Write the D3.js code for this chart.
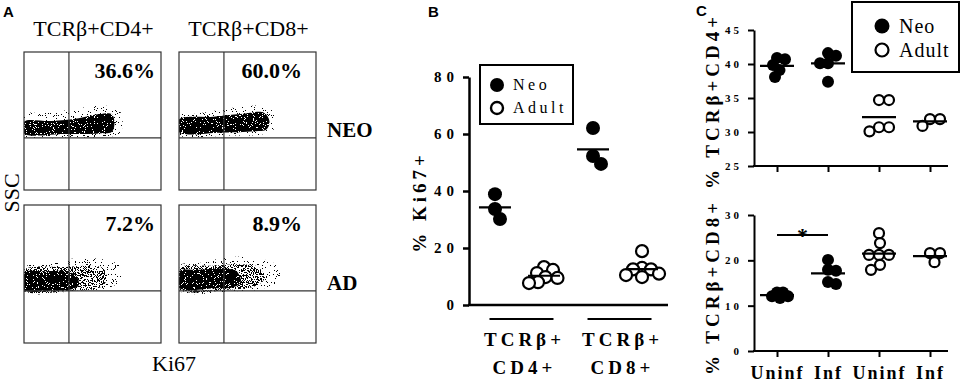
<!DOCTYPE html>
<html>
<head>
<meta charset="utf-8">
<script src="https://cdn.jsdelivr.net/npm/d3@7"></script>
<style>
body { margin: 0; background: #fff; }
svg { display: block; }
</style>
</head>
<body>
<svg id="fig" width="965" height="382"></svg>
<script>
// ---------- panel A data (flow plots, outlines of the event clouds in % of each axis)
var aColumns = ["TCRβ+CD4+", "TCRβ+CD8+"];
var aRows = ["NEO", "AD"];
var aPercents = ["36.6%", "60.0%", "7.2%", "8.9%"];
var aGate = [32.8, 37.7]; // Ki67 gate, SSC gate

var neoCd4Halo = [[0,38.5],[30,38],[60,38.5],[70,41],[72,50],[70,57],[60,61],[45,60],[25,57],[10,56],[0,55]];
var neoCd4Core = [[0,41],[30,40.5],[55,41],[64,42],[66,48],[64,55],[55,55],[40,52],[20,50],[0,49.5]];
var neoCd8Halo = [[0,40],[35,39.5],[62,40.5],[70,45],[70,54],[65,60],[50,61],[30,58],[10,55],[0,54]];
var neoCd8Core = [[0,42],[30,41.5],[55,42.5],[64,44],[66,50],[62,56],[45,55],[25,53],[0,51]];
var adCd4Halo = [[0,37.5],[40,38],[62,40],[72,47],[70,56],[55,61],[35,61],[15,57],[0,55]];
var adCd4Mid = [[0,38],[35,38],[55,40],[60,45],[58,54],[45,56],[30,55],[0,53]];
var adCd4Core = [[0,38.5],[20,38],[35,39],[40,42],[38,49],[30,52],[15,52],[0,51]];
var adCd8Halo = [[0,38],[40,37.5],[60,39],[75,47],[72,56],[55,62],[35,62],[15,58],[0,56]];
var adCd8Mid = [[0,39],[40,39],[55,41],[62,46],[58,55],[45,57],[25,56],[0,54]];
var adCd8Core = [[0,40],[25,39.5],[40,40.5],[45,44],[42,52],[30,54],[15,53],[0,52]];

// ---------- panel B data (% Ki67+)
var bCategories = [["TCRβ+", "CD4+"], ["TCRβ+", "CD8+"]];
var bTicks = [0, 20, 40, 60, 80];
var bNeoCd4 = [38.9, 33.7, 30.2];
var bAdultCd4 = [11.2, 9.8, 8.0, 7.7, 9.5, 12.3, 13.3];
var bNeoCd8 = [62.1, 49.5, 52.3];
var bAdultCd8 = [18.9, 13.0, 12.5, 11.0, 10.5, 9.8, 12.5];

// ---------- panel C data (% TCRb+CD4+ / % TCRb+CD8+)
var cGroups = ["Uninf", "Inf", "Uninf", "Inf"];
var cTopTicks = [25, 30, 35, 40, 45];
var cBotTicks = [0, 10, 20, 30];
var cd4NeoUninf = [39.85, 40.9, 40.7, 39.1, 38.1];
var cd4NeoInf = [41.6, 41.2, 40.1, 40.1, 37.4];
var cd4AdultUninf = [34.7, 34.7, 30.7, 30.1, 30.7];
var cd4AdultInf = [31.9, 31.9, 30.9];
var cd8NeoUninf = [12.9, 12.9, 11.7, 12.1, 12.1];
var cd8NeoInf = [20.1, 17.7, 17.9, 14.8, 15.2];
var cd8AdultUninf = [26.0, 23.8, 21.2, 21.2, 21.2, 17.9, 19.0];
var cd8AdultInf = [21.6, 21.6, 19.6];

var SERIF = '"Liberation Serif","Times New Roman",serif';
var SANS = '"Liberation Sans",Arial,sans-serif';

var svg = d3.select("#fig");
svg.append("rect").attr("width", 965).attr("height", 382).attr("fill", "#fff");
var defs = svg.append("defs");

// speckle filter: noise thresholded into an alpha mask, so a shape looks like a dot cloud
function speckle(id, cut, freq) {
    var f = defs.append("filter").attr("id", id)
        .attr("x", "-5%").attr("y", "-5%").attr("width", "110%").attr("height", "110%")
        .attr("color-interpolation-filters", "sRGB");
    f.append("feTurbulence").attr("type", "fractalNoise").attr("baseFrequency", freq)
        .attr("numOctaves", 2).attr("seed", 7).attr("result", "noise");
    f.append("feColorMatrix").attr("in", "noise").attr("type", "matrix")
        .attr("values", "0 0 0 0 0  0 0 0 0 0  0 0 0 0 0  1 0 0 0 0").attr("result", "gray");
    f.append("feComponentTransfer").attr("in", "gray").attr("result", "mask")
        .append("feFuncA").attr("type", "discrete")
        .attr("tableValues", d3.range(50).map(function(i) { return i / 50 >= cut ? 1 : 0; }).join(" "));
    f.append("feComposite").attr("in", "SourceGraphic").attr("in2", "mask").attr("operator", "in");
}
speckle("spkCore", 0.34, 1.1);
speckle("spkMid", 0.52, 1.1);
speckle("spkHalo", 0.66, 1.1);

// panel letters
[["A", 3, 17], ["B", 428, 17], ["C", 696, 16]].forEach(function(l) {
    svg.append("text").attr("x", l[1]).attr("y", l[2])
        .style("font-family", SANS).style("font-weight", "bold").style("font-size", "15px")
        .text(l[0]);
});

// ================= PANEL A =================
var boxW = 137, boxH = 138;
var colLeft = [24, 179], rowTop = [52, 205], pctRight = [155, 302];
var flowPlots = [
    {col: 0, row: 0, pct: aPercents[0], layers: [[neoCd4Halo, "spkHalo"], [neoCd4Core, "spkCore"]]},
    {col: 1, row: 0, pct: aPercents[1], layers: [[neoCd8Halo, "spkHalo"], [neoCd8Core, "spkCore"]]},
    {col: 0, row: 1, pct: aPercents[2], layers: [[adCd4Halo, "spkHalo"], [adCd4Mid, "spkMid"], [adCd4Core, "spkCore"]]},
    {col: 1, row: 1, pct: aPercents[3], layers: [[adCd8Halo, "spkHalo"], [adCd8Mid, "spkMid"], [adCd8Core, "spkCore"]]}
];

var gA = svg.append("g");
flowPlots.forEach(function(p, i) {
    var x0 = colLeft[p.col], y0 = rowTop[p.row];
    var fx = d3.scaleLinear().domain([0, 100]).range([x0, x0 + boxW]);
    var fy = d3.scaleLinear().domain([0, 100]).range([y0 + boxH, y0]);
    var outline = d3.line().x(function(d) { return fx(d[0]); }).y(function(d) { return fy(d[1]); })
        .curve(d3.curveCatmullRomClosed);

    defs.append("clipPath").attr("id", "clipA" + i)
        .append("rect").attr("x", x0).attr("y", y0).attr("width", boxW).attr("height", boxH);

    var cloud = gA.append("g").attr("clip-path", "url(#clipA" + i + ")");
    p.layers.forEach(function(layer) {
        cloud.append("path").attr("d", outline(layer[0]))
            .attr("fill", "#000").attr("filter", "url(#" + layer[1] + ")");
    });

    gA.append("rect").attr("x", x0).attr("y", y0).attr("width", boxW).attr("height", boxH)
        .attr("fill", "none").attr("stroke", "#333").attr("stroke-width", 1.2);
    gA.append("line").attr("x1", fx(aGate[0])).attr("x2", fx(aGate[0]))
        .attr("y1", fy(0)).attr("y2", fy(100)).attr("stroke", "#333").attr("stroke-width", 1.2);
    gA.append("line").attr("x1", fx(0)).attr("x2", fx(100))
        .attr("y1", fy(aGate[1])).attr("y2", fy(aGate[1])).attr("stroke", "#333").attr("stroke-width", 1.2);

    gA.append("text").attr("x", pctRight[p.col]).attr("y", y0 + 26)
        .attr("text-anchor", "end")
        .style("font-family", SERIF).style("font-weight", "bold").style("font-size", "22px")
        .text(p.pct);
});

aColumns.forEach(function(t, i) {
    gA.append("text").attr("x", colLeft[i] + boxW / 2 + 1).attr("y", 36)
        .attr("text-anchor", "middle")
        .style("font-family", SERIF).style("font-size", "22px").text(t);
});
aRows.forEach(function(t, i) {
    gA.append("text").attr("x", 327).attr("y", rowTop[i] + 85)
        .style("font-family", SERIF).style("font-weight", "bold").style("font-size", "21px").text(t);
});
gA.append("text").attr("x", 174).attr("y", 371).attr("text-anchor", "middle")
    .style("font-family", SERIF).style("font-size", "22px").text("Ki67");
gA.append("text").attr("transform", "translate(19,193) rotate(-90)").attr("text-anchor", "middle")
    .style("font-family", SERIF).style("font-size", "22px").text("SSC");

// beeswarm-like layout for scatter columns
function swarm(vals, y, cx, minD) {
    var pts = vals.map(function(v) { return {v: v, y: y(v)}; })
        .sort(function(a, b) { return a.y - b.y; });
    var placed = [];
    pts.forEach(function(p) {
        var off = 0;
        for (var k = 0; k < 400; k++) {
            var o = (k % 2 ? 1 : -1) * Math.ceil(k / 2) * 0.5;
            var ok = placed.every(function(q) { return Math.hypot(q.x - (cx + o), q.y - p.y) >= minD; });
            if (ok) { off = o; break; }
        }
        p.x = cx + off;
        placed.push(p);
    });
    return placed;
}

function drawColumn(g, vals, y, cx, r, filled, halfLine, minD) {
    g.selectAll(null).data(swarm(vals, y, cx, minD)).enter().append("circle")
        .attr("cx", function(d) { return d.x; })
        .attr("cy", function(d) { return d.y; })
        .attr("r", filled ? r : r - 1)
        .attr("fill", filled ? "#000" : "#fff")
        .attr("stroke", "#000").attr("stroke-width", filled ? 0 : 2.2);
    var m = y(d3.mean(vals));
    g.append("line").attr("x1", cx - halfLine).attr("x2", cx + halfLine)
        .attr("y1", m).attr("y2", m).attr("stroke", "#000").attr("stroke-width", 2.2);
}

function styleAxis(sel, size, spacing) {
    sel.attr("font-family", null);
    sel.selectAll("text").style("font-family", SERIF).style("font-weight", "bold")
        .style("font-size", size).style("letter-spacing", spacing).attr("fill", "#000");
}

// ================= PANEL B =================
var gB = svg.append("g");
var yB = d3.scaleLinear().domain([0, 80]).range([305, 77]);
var xB = d3.scalePoint().domain(["cd4neo", "cd4adult", "cd8neo", "cd8adult"])
    .range([469, 668]).padding(0.53);

var axB = gB.append("g").attr("transform", "translate(469,0)")
    .call(d3.axisLeft(yB).tickValues(bTicks).tickSize(6).tickSizeOuter(0));
axB.select(".domain").attr("stroke-width", 2.5);
axB.selectAll(".tick line").attr("stroke-width", 2.5);
styleAxis(axB, "15px", "5px");
axB.selectAll(".tick text").attr("x", -10);
gB.append("line").attr("x1", 468).attr("x2", 668).attr("y1", yB(0)).attr("y2", yB(0))
    .attr("stroke", "#000").attr("stroke-width", 2.5);

drawColumn(gB, bNeoCd4, yB, xB("cd4neo"), 7, true, 16, 11);
drawColumn(gB, bAdultCd4, yB, xB("cd4adult"), 7, false, 16, 9);
drawColumn(gB, bNeoCd8, yB, xB("cd8neo"), 7, true, 16, 11);
drawColumn(gB, bAdultCd8, yB, xB("cd8adult"), 7, false, 16, 9);

bCategories.forEach(function(c, i) {
    var a = xB.domain()[i * 2], b = xB.domain()[i * 2 + 1];
    var mid = (xB(a) + xB(b)) / 2 + 2;
    gB.append("line").attr("x1", mid - 32).attr("x2", mid + 32).attr("y1", 319).attr("y2", 319)
        .attr("stroke", "#000").attr("stroke-width", 2.2);
    c.forEach(function(line, j) {
        gB.append("text").attr("x", mid + 3).attr("y", 346 + j * 28).attr("text-anchor", "middle")
            .style("font-family", SERIF).style("font-weight", "bold").style("font-size", "19px")
            .style("letter-spacing", "4px").text(line);
    });
});
gB.append("text").attr("transform", "translate(426,202) rotate(-90)").attr("text-anchor", "middle")
    .style("font-family", SERIF).style("font-weight", "bold").style("font-size", "19px")
    .style("letter-spacing", "4px").text("% Ki67+");

// legend B
gB.append("rect").attr("x", 480).attr("y", 65).attr("width", 93).attr("height", 59)
    .attr("fill", "#fff").attr("stroke", "#000").attr("stroke-width", 2);
[["Neo", true, 85], ["Adult", false, 108]].forEach(function(l) {
    gB.append("circle").attr("cx", 497).attr("cy", l[2]).attr("r", l[1] ? 7 : 6)
        .attr("fill", l[1] ? "#000" : "#fff").attr("stroke", "#000").attr("stroke-width", l[1] ? 0 : 2.4);
    gB.append("text").attr("x", 513).attr("y", l[2] + 5)
        .style("font-family", SERIF).style("font-size", "16px").style("letter-spacing", "3.5px").text(l[0]);
});

// ================= PANEL C =================
var gC = svg.append("g");
var xC = d3.scalePoint().domain(d3.range(cGroups.length)).range([777, 930]);
var yC1 = d3.scaleLinear().domain([25, 45]).range([166, 30]);
var yC2 = d3.scaleLinear().domain([0, 30]).range([351, 215]);

function cAxes(y, ticks, showLabels) {
    var ax = gC.append("g").attr("transform", "translate(754,0)")
        .call(d3.axisLeft(y).tickValues(ticks).tickSize(6).tickSizeOuter(0));
    ax.select(".domain").attr("stroke-width", 2);
    ax.selectAll(".tick line").attr("stroke-width", 2);
    styleAxis(ax, "11px", "3px");
    ax.selectAll(".tick text").attr("x", -12);
    var base = y.range()[0];
    gC.append("line").attr("x1", 753).attr("x2", 948).attr("y1", base).attr("y2", base)
        .attr("stroke", "#000").attr("stroke-width", 2);
    var bx = gC.append("g").attr("transform", "translate(0," + base + ")")
        .call(d3.axisBottom(xC).tickSize(6).tickSizeOuter(0).tickPadding(9)
            .tickFormat(function(i) { return showLabels ? cGroups[i] : ""; }));
    bx.select(".domain").remove();
    bx.selectAll(".tick line").attr("stroke-width", 2);
    styleAxis(bx, "18px", "2px");
}
cAxes(yC1, cTopTicks, false);
cAxes(yC2, cBotTicks, true);

drawColumn(gC, cd4NeoUninf, yC1, xC(0), 6, true, 17, 8);
drawColumn(gC, cd4NeoInf, yC1, xC(1), 6, true, 17, 8);
drawColumn(gC, cd4AdultUninf, yC1, xC(2), 6, false, 17, 10);
drawColumn(gC, cd4AdultInf, yC1, xC(3), 6, false, 17, 10);
drawColumn(gC, cd8NeoUninf, yC2, xC(0), 6, true, 17, 6);
drawColumn(gC, cd8NeoInf, yC2, xC(1), 6, true, 17, 8);
drawColumn(gC, cd8AdultUninf, yC2, xC(2), 6, false, 17, 10);
drawColumn(gC, cd8AdultInf, yC2, xC(3), 6, false, 17, 10);

// significance bar
gC.append("line").attr("x1", xC(0)).attr("x2", xC(1)).attr("y1", 235).attr("y2", 235)
    .attr("stroke", "#000").attr("stroke-width", 2);
gC.append("text").attr("x", (xC(0) + xC(1)) / 2).attr("y", 243).attr("text-anchor", "middle")
    .style("font-family", SERIF).style("font-weight", "bold").style("font-size", "22px").text("*");

[["% TCRβ+CD4+", 101], ["% TCRβ+CD8+", 287]].forEach(function(l) {
    gC.append("text").attr("transform", "translate(719," + l[1] + ") rotate(-90)").attr("text-anchor", "middle")
        .style("font-family", SERIF).style("font-weight", "bold").style("font-size", "19px")
        .style("letter-spacing", "4px").text(l[0]);
});

// legend C
gC.append("rect").attr("x", 852).attr("y", 2).attr("width", 107).attr("height", 70)
    .attr("fill", "#fff").attr("stroke", "#000").attr("stroke-width", 2);
[["Neo", true, 26], ["Adult", false, 50]].forEach(function(l) {
    gC.append("circle").attr("cx", 882).attr("cy", l[2]).attr("r", l[1] ? 7.5 : 6.5)
        .attr("fill", l[1] ? "#000" : "#fff").attr("stroke", "#000").attr("stroke-width", l[1] ? 0 : 2.2);
    gC.append("text").attr("x", 899).attr("y", l[2] + 7)
        .style("font-family", SERIF).style("font-size", "20px").style("letter-spacing", "1px").text(l[0]);
});
</script>
</body>
</html>
